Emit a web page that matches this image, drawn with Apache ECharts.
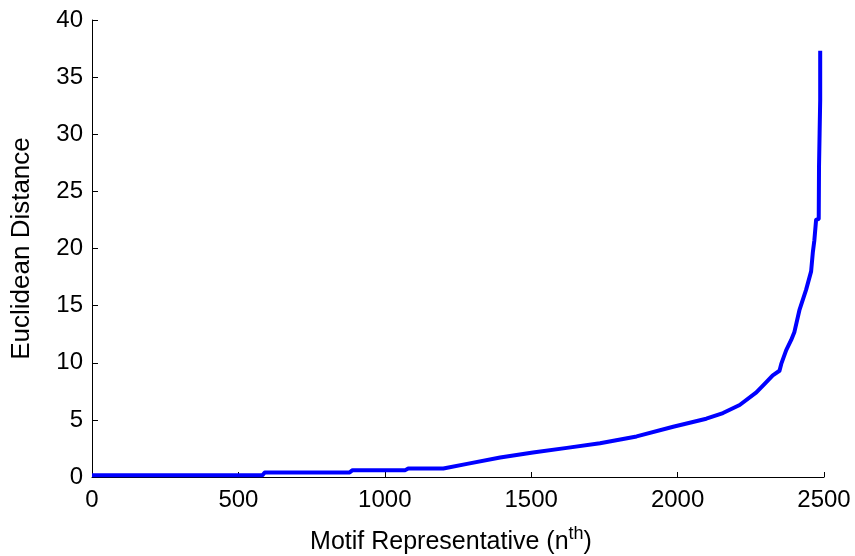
<!DOCTYPE html>
<html>
<head>
<meta charset="utf-8">
<script src="https://cdn.jsdelivr.net/npm/echarts@6/dist/echarts.min.js"></script>
<style>
  html, body { margin: 0; padding: 0; background: #fff; }
  #chart { width: 855px; height: 556px; }
</style>
</head>
<body>
<div id="chart"></div>
<script>
// Sorted motif distances: rank of the representative and its Euclidean distance
const motifRank = [0, 582, 590, 880, 890, 1070, 1080, 1200, 1281, 1394, 1506, 1622, 1735, 1860, 1985, 2098, 2155, 2212, 2269, 2303, 2325, 2348, 2354, 2371, 2388, 2399, 2416, 2439, 2456, 2462, 2467, 2473, 2482, 2483, 2485, 2487, 2487];
const distance  = [0.15, 0.15, 0.4, 0.4, 0.6, 0.6, 0.75, 0.75, 1.15, 1.7, 2.15, 2.55, 2.95, 3.55, 4.4, 5.1, 5.6, 6.3, 7.4, 8.3, 8.9, 9.3, 9.9, 11.1, 12.0, 12.7, 14.6, 16.4, 18.0, 19.7, 20.7, 22.5, 22.6, 27.2, 30.1, 33.0, 37.3];

const xTicks = [0, 500, 1000, 1500, 2000, 2500];
const yTicks = [0, 5, 10, 15, 20, 25, 30, 35, 40];

const points = motifRank.map((x, i) => [x, distance[i]]);

const chart = echarts.init(document.getElementById('chart'), null, { renderer: 'canvas' });
const font = 'Arial, "Liberation Sans", sans-serif';

chart.setOption({
  animation: false,
  backgroundColor: '#ffffff',
  grid: { left: 92, right: 31, top: 20, bottom: 79, containLabel: false, outerBoundsMode: 'none' },
  xAxis: {
    type: 'value',
    min: xTicks[0],
    max: xTicks[xTicks.length - 1],
    interval: 500,
    name: '{a|Motif Representative (n}{s|th}{a|)}',
    nameLocation: 'middle',
    nameGap: 48,
    nameTextStyle: {
      padding: [0, 14, 0, 0],
      rich: {
        a: { fontSize: 25, color: '#000', fontFamily: font, verticalAlign: 'bottom', lineHeight: 30 },
        s: { fontSize: 18, color: '#000', fontFamily: font, verticalAlign: 'top', lineHeight: 30, padding: [0, 0, 12, 0] }
      }
    },
    axisLine: { show: true, lineStyle: { color: '#000', width: 1 } },
    axisTick: { show: true, inside: true, length: 5, lineStyle: { color: '#000' } },
    axisLabel: { color: '#000', fontSize: 24, fontFamily: font, margin: 11, formatter: v => String(v) },
    splitLine: { show: false }
  },
  yAxis: {
    type: 'value',
    min: yTicks[0],
    max: yTicks[yTicks.length - 1],
    interval: 5,
    name: 'Euclidean Distance',
    nameLocation: 'middle',
    nameGap: 57,
    nameTextStyle: { color: '#000', fontSize: 26, fontFamily: font },
    axisLine: { show: true, lineStyle: { color: '#000', width: 1 } },
    axisTick: { show: true, inside: true, length: 6, lineStyle: { color: '#000' } },
    axisLabel: { color: '#000', fontSize: 24, fontFamily: font, margin: 9, formatter: v => String(v) },
    splitLine: { show: false }
  },
  series: [{
    type: 'line',
    data: points,
    showSymbol: false,
    clip: false,
    lineStyle: { color: '#0000ff', width: 4, join: 'round' },
    itemStyle: { color: '#0000ff' }
  }]
});
</script>
</body>
</html>
